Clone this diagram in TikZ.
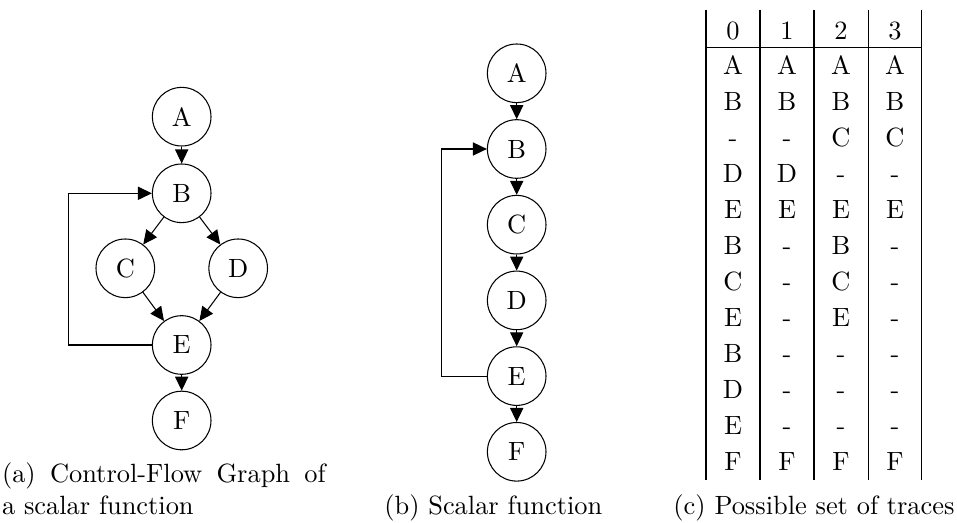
\documentclass[tikz,border=0pt]{standalone}
\usetikzlibrary{arrows.meta}
\begin{document}
\begin{tikzpicture}[x=0.3788pt,y=-0.3788pt,
  nd/.style={circle,draw,line width=0.4pt,minimum size=22.2pt,inner sep=0pt},
  edge/.style={-{Triangle[length=5.3pt,width=5pt]},line width=0.4pt},
  rule/.style={line width=0.4pt},
  cell/.style={anchor=base,inner sep=0pt},
  capw/.style={anchor=base west,inner sep=0pt},
  capc/.style={anchor=base,inner sep=0pt}]
\useasboundingbox (0,0) rectangle (957,523);

% (a) control-flow graph
\node[nd] (Aa) at (181.7,116.7) {A};
\node[nd] (Ba) at (181.7,193.3) {B};
\node[nd] (Ca) at (125.3,268.3) {C};
\node[nd] (Da) at (238.2,268.3) {D};
\node[nd] (Ea) at (181.7,345) {E};
\node[nd] (Fa) at (181.7,420.5) {F};
\coordinate (la) at (68.3,0);
\draw[edge] (Aa) -- (Ba);
\draw[edge] (Ba) -- (Ca);
\draw[edge] (Ba) -- (Da);
\draw[edge] (Ca) -- (Ea);
\draw[edge] (Da) -- (Ea);
\draw[edge] (Ea) -- (Fa);
\draw[edge] (Ea.west) -- (Ea.west -| la) |- (Ba.west);

% (b) scalar function
\node[nd] (Ab) at (516.7,73.3) {A};
\node[nd] (Bb) at (516.7,149) {B};
\node[nd] (Cb) at (516.7,224.7) {C};
\node[nd] (Db) at (516.7,300.4) {D};
\node[nd] (Eb) at (516.7,376.1) {E};
\node[nd] (Fb) at (516.7,451.8) {F};
\coordinate (lb) at (441.7,0);
\draw[edge] (Ab) -- (Bb);
\draw[edge] (Bb) -- (Cb);
\draw[edge] (Cb) -- (Db);
\draw[edge] (Db) -- (Eb);
\draw[edge] (Eb) -- (Fb);
\draw[edge] (Eb.west) -- (Eb.west -| lb) |- (Bb.west);

% (c) table of traces
\foreach \xx in {706,760,814,868.3,921.7} \draw[rule] (\xx,10) -- (\xx,480);
\draw[rule] (706,47.3) -- (921.7,47.3);
\foreach \c/\xx in {0/733,1/787,2/841,3/895} \node[cell] (h\c) at (\xx,39.3) {\c};
\foreach \col/\xx/\lst in {0/733/{A,B,-,D,E,B,C,E,B,D,E,F},
                          1/787/{A,B,-,D,E,-,-,-,-,-,-,F},
                          2/841/{A,B,C,-,E,B,C,E,-,-,-,F},
                          3/895/{A,B,C,-,E,-,-,-,-,-,-,F}} {
  \foreach \v [count=\i from 0] in \lst {
    \node[cell] (t\col r\i) at (\xx,75+35.97*\i) {\v};
  }
}

% captions
\node[capw] (capa1) at (1.5,482.7) {\hbox to 122.6pt{(a) Control-Flow Graph of}};
\node[capw] (capa2) at (1.5,514.5) {a scalar function};
\node[capc] (capb) at (493.3,514.5) {(b) Scalar function};
\node[capc] (capc) at (814,514.5) {(c) Possible set of traces};
\end{tikzpicture}
\end{document}
